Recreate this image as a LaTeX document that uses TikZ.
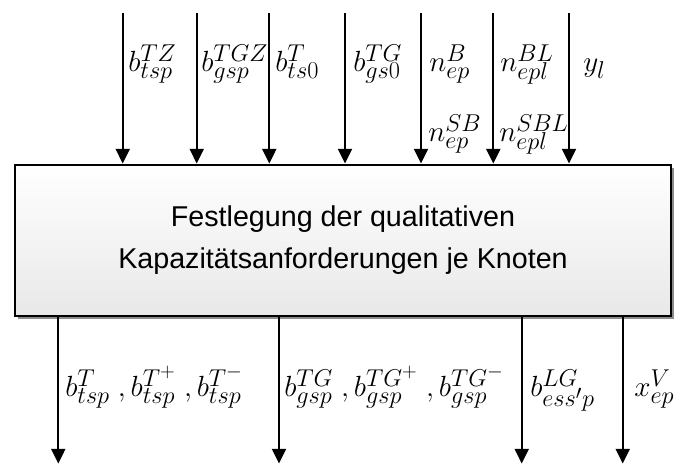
\documentclass[tikz,border=0pt]{standalone}
\usepackage{graphicx}
\usepackage{fontspec}
\setmainfont{Liberation Sans}
\usetikzlibrary{arrows.meta,shadows}
\newcommand{\mlab}[1]{\scalebox{0.88}{$#1$}}
\begin{document}
\begin{tikzpicture}[x=0.75pt,y=-0.75pt,
  flow/.style={line width=1.5pt,-{Triangle[width=10.5pt,length=11pt]}},
  mlabel/.style={anchor=base west,inner sep=0pt,font=\fontsize{24.88}{29}\selectfont},
  mainbox/.style={draw=black,line width=1.5pt,top color=white,bottom color=black!9,
    minimum width=492pt,minimum height=113.25pt,inner sep=0pt,align=center,
    font=\fontsize{21.5}{31.5}\selectfont,
    drop shadow={shadow xshift=2.4pt,shadow yshift=-2.6pt,fill=black!45,opacity=1}}]
\useasboundingbox (0,0) rectangle (678,464);
\node[mainbox] (box) at (343,240) {Festlegung der qualitativen\\Kapazitätsanforderungen je Knoten};
% top inputs
\coordinate (t1) at (122.7,13);
\coordinate (t2) at (196.7,13);
\coordinate (t3) at (269.3,13);
\coordinate (t4) at (345,13);
\coordinate (t5) at (421,13);
\coordinate (t6) at (493.3,13);
\coordinate (t7) at (569,13);
\foreach \i in {1,...,7} \draw[flow] (t\i) -- (t\i |- box.north);
% bottom outputs
\coordinate (o1) at (58.3,463.5);
\coordinate (o2) at (279,463.5);
\coordinate (o3) at (521.7,463.5);
\coordinate (o4) at (622.7,463.5);
\foreach \i in {1,...,4} \draw[flow] (o\i |- box.south) -- (o\i);
% top labels
\node[mlabel] (l1) at (128,71.7) {\mlab{b^{TZ}_{tsp}}};
\node[mlabel] (l2) at (201,71.7) {\mlab{b^{TGZ}_{gsp}}};
\node[mlabel] (l3) at (275,71.7) {\mlab{b^{T}_{ts0}}};
\node[mlabel] (l4) at (353,71.7) {\mlab{b^{TG}_{gs0}}};
\node[mlabel] (l5) at (429,71.7) {\mlab{n^{B}_{ep}}};
\node[mlabel] (l6) at (500,71.7) {\mlab{n^{BL}_{epl}}};
\node[mlabel] (l7) at (583,71.7) {\mlab{y_{l}}};
\node[mlabel] (l8) at (428,141.7) {\mlab{n^{SB}_{ep}}};
\node[mlabel] (l9) at (499,141.7) {\mlab{n^{SBL}_{epl}}};
% bottom labels
\node[mlabel] (m1) at (65,396.7) {\mlab{b^{T}_{tsp}\;,b^{T^+}_{tsp}\;,b^{T^-}_{tsp}}};
\node[mlabel] (m2) at (284,396.7) {\mlab{b^{TG}_{gsp}\;,b^{TG^+}_{gsp}\;,b^{TG^-}_{gsp}}};
\node[mlabel] (m3) at (530,396.7) {\mlab{b^{LG}_{ess'p}}};
\node[mlabel] (m4) at (634,396.7) {\mlab{x^{V}_{ep}}};
\end{tikzpicture}
\end{document}
